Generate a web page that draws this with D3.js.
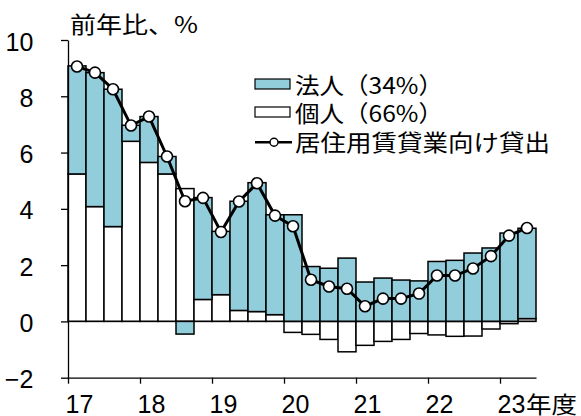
<!DOCTYPE html>
<meta charset="UTF-8">
<style>
    body { margin: 0; background: #fff; }
    .num { font-family: "Liberation Sans Narrow", "Liberation Sans", sans-serif; font-size: 25px; fill: #000; }
    .jp { font-family: "Noto Sans CJK JP", sans-serif; font-size: 23px; fill: #000; }
</style>
<body>
<div id="chart"></div>
<script src="https://d3js.org/d3.v7.min.js"></script>
<script>

// quarterly data, FY2017 Q1 .. FY2023 Q2
var quarters = d3.range(26);
// individual (white) contribution, % pts
var individual = [5.24, 4.08, 3.37, 6.40, 5.65, 5.24, 4.72, 0.78, 0.95, 0.39, 0.35, 0.24,
                  -0.39, -0.46, -0.64, -1.08, -0.85, -0.71, -0.64, -0.43, -0.48, -0.53, -0.52, -0.27, -0.08, 0.10];
// corporate (blue) contribution, % pts
var corporate = [3.84, 4.76, 4.88, 0.57, 1.63, 0.62, -0.45, 3.62, 2.25, 3.88, 4.58, 3.55,
                 3.79, 1.95, 1.89, 2.25, 1.40, 1.54, 1.47, 1.44, 2.13, 2.17, 2.43, 2.61, 3.14, 3.21];
// total lending to rental housing, y/y %
var total = [9.06, 8.84, 8.25, 6.96, 7.28, 5.86, 4.27, 4.39, 3.18, 4.26, 4.91, 3.76,
             3.38, 1.48, 1.24, 1.16, 0.54, 0.81, 0.81, 0.99, 1.63, 1.63, 1.88, 2.32, 3.05, 3.32];
var yTicks = [-2, 0, 2, 4, 6, 8, 10];
var xTicks = [17, 18, 19, 20, 21, 22, 23];
var legendLabels = ["法人（34%）", "個人（66%）", "居住用賃貸業向け貸出"];

var width = 581, height = 416;
var blue = "#92cddc";

var svg = d3.select("#chart").append("svg")
    .attr("width", width)
    .attr("height", height);

// scales
var x = d3.scaleLinear().domain([17, 23.5]).range([68, 536]);
var y = d3.scaleLinear().domain([-2, 10]).range([377.7, 40]);
var qx = function(i) { return x(17 + i / 4); };
var bw = x(17.25) - x(17);

// stack white first, blue on top, negatives go below zero
var rows = quarters.map(function(i) { return {i: i, ind: individual[i], corp: corporate[i]}; });
var series = d3.stack()
    .keys(["ind", "corp"])
    .offset(d3.stackOffsetDiverging)(rows);
var fills = {ind: "#fff", corp: blue};

svg.append("g").selectAll("g")
    .data(series)
    .join("g")
    .attr("fill", function(s) { return fills[s.key]; })
    .selectAll("rect")
    .data(function(s) { return s; })
    .join("rect")
    .attr("x", function(d) { return qx(d.data.i); })
    .attr("width", bw)
    .attr("y", function(d) { return y(Math.max(d[0], d[1])); })
    .attr("height", function(d) { return Math.abs(y(d[0]) - y(d[1])); })
    .attr("stroke", "#000")
    .attr("stroke-width", 1.5);

// zero line
svg.append("line")
    .attr("x1", x(17)).attr("x2", x(23.5))
    .attr("y1", y(0)).attr("y2", y(0))
    .attr("stroke", "#000")
    .attr("stroke-width", 1.2);

// total line
var line = d3.line()
    .x(function(d, i) { return qx(i) + bw / 2; })
    .y(function(d) { return y(d); });

svg.append("path")
    .datum(total)
    .attr("fill", "none")
    .attr("stroke", "#000")
    .attr("stroke-width", 3)
    .attr("d", line);

svg.append("g").selectAll("circle")
    .data(total)
    .join("circle")
    .attr("cx", function(d, i) { return qx(i) + bw / 2; })
    .attr("cy", function(d) { return y(d); })
    .attr("r", 5.5)
    .attr("fill", "#fff")
    .attr("stroke", "#000")
    .attr("stroke-width", 1.6);

// y axis
var yAxis = svg.append("g")
    .attr("transform", "translate(" + x(17) + ",0)")
    .call(d3.axisLeft(y).tickValues(yTicks).tickSize(7).tickSizeOuter(0).tickPadding(27.7)
        .tickFormat(function(d) { return d < 0 ? "\u2212" + Math.abs(d) : d; }));
yAxis.selectAll("text").attr("class", "num").attr("font-family", null).attr("font-size", null)
    .attr("dy", "0.4em");
yAxis.selectAll("path, line").attr("stroke", "#000").attr("stroke-width", 1.3);

// x axis
var xAxis = svg.append("g")
    .attr("transform", "translate(0," + y(-2) + ")")
    .call(d3.axisBottom(x).tickValues(xTicks).tickSize(6).tickSizeOuter(0)
        .tickFormat(d3.format("d")));
xAxis.selectAll("text").attr("class", "num").attr("font-family", null).attr("font-size", null)
    .attr("text-anchor", "start").attr("x", -3).attr("y", 35.5).attr("dy", 0);
xAxis.selectAll("path, line").attr("stroke", "#000").attr("stroke-width", 1.3);

svg.append("text")
    .attr("class", "jp")
    .attr("x", 526).attr("y", 412.5)
    .attr("textLength", 51).attr("lengthAdjust", "spacingAndGlyphs")
    .text("年度");

// unit title
svg.append("text")
    .attr("class", "jp")
    .attr("x", 70).attr("y", 33)
    .attr("font-size", 24)
    .attr("textLength", 128).attr("lengthAdjust", "spacingAndGlyphs")
    .text("前年比、%");

// legend
var lg = svg.append("g");

lg.append("rect").attr("x", 255).attr("y", 79).attr("width", 35).attr("height", 10)
    .attr("fill", blue).attr("stroke", "#000").attr("stroke-width", 1.2);
lg.append("rect").attr("x", 255).attr("y", 107).attr("width", 35).attr("height", 10)
    .attr("fill", "#fff").attr("stroke", "#000").attr("stroke-width", 1.2);
lg.append("line").attr("x1", 255).attr("x2", 292).attr("y1", 142.3).attr("y2", 142.3)
    .attr("stroke", "#000").attr("stroke-width", 2.5);
lg.append("circle").attr("cx", 274).attr("cy", 142.3).attr("r", 4)
    .attr("fill", "#fff").attr("stroke", "#000").attr("stroke-width", 1.4);

var legendLen = [148, 148, 255];
var legendBase = [94, 121.6, 150.8];
lg.selectAll("text.leg")
    .data(legendLabels)
    .join("text")
    .attr("class", "jp leg")
    .attr("x", 295)
    .attr("y", function(d, i) { return legendBase[i]; })
    .attr("textLength", function(d, i) { return legendLen[i]; })
    .attr("lengthAdjust", "spacingAndGlyphs")
    .text(function(d) { return d; });

</script>
</body>
